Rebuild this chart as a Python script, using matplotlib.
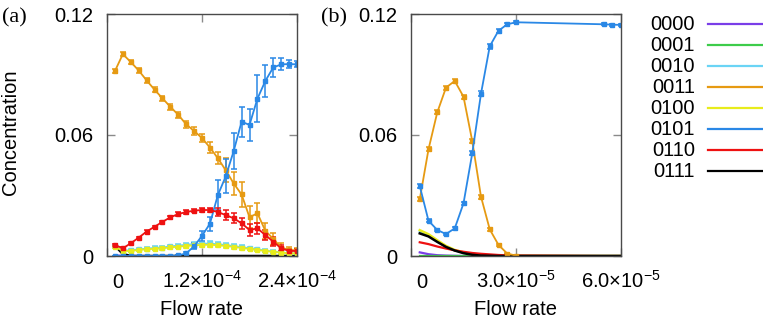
import matplotlib
matplotlib.use("Agg")
import matplotlib.pyplot as plt
import matplotlib.transforms as mtransforms
from matplotlib.lines import Line2D

plt.rcParams['font.family'] = ['Liberation Sans', 'DejaVu Sans']
plt.rcParams['mathtext.fontset'] = 'custom'
plt.rcParams['mathtext.rm'] = 'Liberation Sans'
plt.rcParams['mathtext.it'] = 'Liberation Sans:italic'

states = ['0000', '0001', '0010', '0011', '0100', '0101', '0110', '0111']
colors = ['#7a3ee8', '#3dcc4a', '#6ad4f5', '#e69a12', '#e8ec1c', '#2a88e6', '#ee1111', '#000000']

# panel (a): flow rates 1e-5 .. 2.4e-4
flow_a = [1.0e-5, 2.0e-5, 3.0e-5, 4.0e-5, 5.0e-5, 6.0e-5, 7.0e-5, 8.0e-5,
          9.0e-5, 1.0e-4, 1.1e-4, 1.2e-4, 1.3e-4, 1.4e-4, 1.5e-4, 1.6e-4,
          1.7e-4, 1.8e-4, 1.9e-4, 2.0e-4, 2.1e-4, 2.2e-4, 2.3e-4, 2.4e-4]

a_0000 = [0.0004, 0.0002, 0.0001, 0.0001, 0.0, 0.0, 0.0, 0.0, 0.0, 0.0, 0.0, 0.0,
          0.0, 0.0, 0.0, 0.0, 0.0, 0.0, 0.0, 0.0, 0.0, 0.0, 0.0, 0.0]
a_0001 = [0.0, 0.0, 0.0, 0.0, 0.0, 0.0, 0.0, 0.0, 0.0, 0.0, 0.0, 0.0,
          0.0, 0.0, 0.0, 0.0, 0.0, 0.0, 0.0, 0.0, 0.0, 0.0, 0.0, 0.0]
a_0010 = [0.0048, 0.0027, 0.0028, 0.0033, 0.0036, 0.0040, 0.0042, 0.0048, 0.0051, 0.0056, 0.0059, 0.0061,
          0.0062, 0.0058, 0.0055, 0.0049, 0.0044, 0.0038, 0.0033, 0.0027, 0.0022, 0.0018, 0.0014, 0.0013]
a_0011 = [0.0917, 0.1001, 0.0962, 0.0920, 0.0871, 0.0825, 0.0782, 0.0740, 0.0700, 0.0653, 0.0620, 0.0585,
          0.0538, 0.0485, 0.0425, 0.0360, 0.0305, 0.0192, 0.0212, 0.0125, 0.0085, 0.0042, 0.0030, 0.0028]
a_0100 = [0.0046, 0.0025, 0.0025, 0.0030, 0.0033, 0.0036, 0.0038, 0.0043, 0.0046, 0.0050, 0.0053, 0.0055,
          0.0056, 0.0053, 0.0050, 0.0045, 0.0040, 0.0035, 0.0030, 0.0025, 0.0020, 0.0017, 0.0013, 0.0013]
a_0101 = [0.0, 0.0, 0.0, 0.0, 0.0, 0.0, 0.0, 0.0, 0.0003, 0.0013, 0.0048, 0.0100,
          0.0160, 0.0302, 0.0395, 0.0520, 0.0666, 0.0650, 0.0780, 0.0868, 0.0935, 0.0950, 0.0952, 0.0950]
a_0110 = [0.0055, 0.0038, 0.0063, 0.0091, 0.0121, 0.0145, 0.0169, 0.0192, 0.0208, 0.0218, 0.0225, 0.0228,
          0.0228, 0.0218, 0.0203, 0.0187, 0.0162, 0.0129, 0.0137, 0.0104, 0.0071, 0.0038, 0.0025, 0.0025]
a_0111 = [0.0052, 0.0010, 0.0, 0.0, 0.0, 0.0, 0.0, 0.0, 0.0, 0.0, 0.0, 0.0,
          0.0, 0.0, 0.0, 0.0, 0.0, 0.0, 0.0, 0.0, 0.0, 0.0, 0.0, 0.0]

err_a_0010 = [0.0006, 0.0006, 0.0006, 0.0007, 0.0007, 0.0008, 0.0008, 0.0009, 0.0009, 0.0010, 0.0010, 0.0010,
              0.0010, 0.0010, 0.0010, 0.0009, 0.0009, 0.0008, 0.0008, 0.0007, 0.0006, 0.0005, 0.0005, 0.0005]
err_a_0011 = [0.0010, 0.0010, 0.0010, 0.0012, 0.0012, 0.0013, 0.0013, 0.0014, 0.0015, 0.0018, 0.0020, 0.0022,
              0.0025, 0.0030, 0.0060, 0.0058, 0.0062, 0.0055, 0.0050, 0.0040, 0.0030, 0.0020, 0.0015, 0.0010]
err_a_0100 = [0.0005, 0.0005, 0.0005, 0.0006, 0.0006, 0.0007, 0.0007, 0.0008, 0.0008, 0.0009, 0.0009, 0.0009,
              0.0009, 0.0009, 0.0009, 0.0008, 0.0008, 0.0007, 0.0007, 0.0006, 0.0005, 0.0005, 0.0004, 0.0004]
err_a_0101 = [0.0, 0.0, 0.0, 0.0, 0.0, 0.0, 0.0, 0.0, 0.0003, 0.0008, 0.0015, 0.0025,
              0.0035, 0.0075, 0.0085, 0.0090, 0.0075, 0.0078, 0.0118, 0.0078, 0.0045, 0.0030, 0.0020, 0.0015]
err_a_0110 = [0.0006, 0.0005, 0.0005, 0.0005, 0.0006, 0.0006, 0.0007, 0.0007, 0.0008, 0.0008, 0.0009, 0.0010,
              0.0012, 0.0018, 0.0025, 0.0025, 0.0028, 0.0028, 0.0028, 0.0025, 0.0022, 0.0015, 0.0010, 0.0008]

# panel (b): flow rates 2.5e-6 .. 6e-5
flow_b = [2.5e-6, 5.0e-6, 7.5e-6, 1.0e-5, 1.25e-5, 1.5e-5, 1.75e-5, 2.0e-5,
          2.25e-5, 2.5e-5, 2.75e-5, 3.0e-5, 5.5e-5, 5.75e-5, 6.0e-5]

b_0000 = [0.0018, 0.0009, 0.0004, 0.0002, 0.0001, 0.0, 0.0, 0.0, 0.0, 0.0, 0.0, 0.0, 0.0, 0.0, 0.0]
b_0001 = [0.0, 0.0, 0.0, 0.0, 0.0, 0.0, 0.0, 0.0, 0.0, 0.0, 0.0, 0.0, 0.0, 0.0, 0.0]
b_0010 = [0.0120, 0.0100, 0.0072, 0.0046, 0.0028, 0.0016, 0.0008, 0.0003, 0.0001, 0.0, 0.0, 0.0, 0.0, 0.0, 0.0]
b_0011 = [0.0281, 0.0529, 0.0712, 0.0835, 0.0868, 0.0790, 0.0570, 0.0294, 0.0132, 0.0055, 0.0012, 0.0002,
          0.0, 0.0, 0.0]
b_0100 = [0.0128, 0.0108, 0.0078, 0.0050, 0.0030, 0.0018, 0.0009, 0.0004, 0.0002, 0.0001, 0.0, 0.0, 0.0, 0.0, 0.0]
b_0101 = [0.0347, 0.0175, 0.0129, 0.0109, 0.0137, 0.0261, 0.0509, 0.0805, 0.1040, 0.1117, 0.1149, 0.1159,
          0.1149, 0.1147, 0.1146]
b_0110 = [0.0068, 0.0059, 0.0047, 0.0037, 0.0028, 0.0021, 0.0015, 0.0011, 0.0008, 0.0005, 0.0003, 0.0002,
          0.0, 0.0, 0.0]
b_0111 = [0.0112, 0.0097, 0.0070, 0.0045, 0.0027, 0.0014, 0.0006, 0.0002, 0.0001, 0.0, 0.0, 0.0, 0.0, 0.0, 0.0]

err_b_0011 = [0.0010, 0.0010, 0.0010, 0.0010, 0.0010, 0.0010, 0.0010, 0.0010, 0.0008, 0.0006, 0.0004, 0.0002,
              0.0, 0.0, 0.0]
err_b_0101 = [0.0012, 0.0008, 0.0006, 0.0006, 0.0006, 0.0008, 0.0010, 0.0012, 0.0012, 0.0010, 0.0008, 0.0006,
              0.0005, 0.0005, 0.0005]

W, H = 763, 326
fig = plt.figure(figsize=(W / 100, H / 100), dpi=100)

def px_axes(x0, x1, y0, y1):
    return fig.add_axes([x0 / W, 1 - y1 / H, (x1 - x0) / W, (y1 - y0) / H])

ax_a = px_axes(107, 297, 14, 256)
ax_b = px_axes(411, 621, 14, 256)

FS = 14.5
spine_col = '#4a4a4a'

def style_axes(ax, xmax, xticks, xlabels):
    ax.set_xlim(0, xmax)
    ax.set_ylim(0, 0.12)
    ax.set_yticks([0, 0.06, 0.12])
    ax.set_yticklabels(['0', '0.06', '0.12'])
    ax.set_xticks(xticks)
    ax.set_xticklabels(xlabels)
    for s in ax.spines.values():
        s.set_color(spine_col)
        s.set_linewidth(1.0)
    ax.tick_params(direction='in', length=6, width=1, color='#8a8a8a',
                   top=True, right=True, labelsize=FS)
    ax.tick_params(axis='y', pad=10)
    ax.tick_params(axis='x', pad=23)
    for lbl in ax.get_xticklabels():
        lbl.set_va('baseline')
    first = ax.get_xticklabels()[0]
    first.set_transform(first.get_transform() +
                        mtransforms.ScaledTranslation(11 / 100, 0, fig.dpi_scale_trans))
    ax.set_xlabel('Flow rate', fontsize=FS)
    ax.xaxis.set_label_coords(0.5, -0.18)

def draw_err(ax, x, y, e, c):
    ax.errorbar(x, y, yerr=e, color=c, lw=1.3, marker='s', ms=2.6,
                capsize=2.2, elinewidth=1.1, capthick=1.1, clip_on=True)

# panel (a)
ax_a.plot(flow_a, a_0000, color=colors[0], lw=1.3)
ax_a.plot(flow_a, a_0001, color=colors[1], lw=1.3)
draw_err(ax_a, flow_a, a_0010, err_a_0010, colors[2])
draw_err(ax_a, flow_a, a_0011, err_a_0011, colors[3])
draw_err(ax_a, flow_a, a_0100, err_a_0100, colors[4])
draw_err(ax_a, flow_a, a_0101, err_a_0101, colors[5])
draw_err(ax_a, flow_a, a_0110, err_a_0110, colors[6])
ax_a.plot(flow_a, a_0111, color=colors[7], lw=1.8)

style_axes(ax_a, 2.4e-4, [0, 1.2e-4, 2.4e-4],
           ['0', r'1.2×10$^{-4}$', r'2.4×10$^{-4}$'])
ax_a.set_ylabel('Concentration', fontsize=FS)
ax_a.yaxis.set_label_coords(-0.458, 0.51)

# panel (b)
ax_b.plot(flow_b, b_0000, color=colors[0], lw=1.6)
ax_b.plot(flow_b, b_0001, color=colors[1], lw=1.6)
ax_b.plot(flow_b, b_0010, color=colors[2], lw=1.6)
draw_err(ax_b, flow_b[:12], b_0011[:12], err_b_0011[:12], colors[3])
ax_b.plot(flow_b[11:], b_0011[11:], color=colors[3], lw=1.3)
ax_b.plot(flow_b, b_0100, color=colors[4], lw=1.8)
draw_err(ax_b, flow_b, b_0101, err_b_0101, colors[5])
ax_b.plot(flow_b, b_0110, color=colors[6], lw=1.6)
ax_b.plot(flow_b, b_0111, color=colors[7], lw=1.8)

style_axes(ax_b, 6.0e-5, [0, 3.0e-5, 6.0e-5],
           ['0', r'3.0×10$^{-5}$', r'6.0×10$^{-5}$'])

# panel labels
fig.text(2 / W, 1 - 17.5 / H, '(a)', fontsize=16, va='center', ha='left',
         family=['Liberation Serif', 'DejaVu Serif'])
fig.text(321 / W, 1 - 17.5 / H, '(b)', fontsize=16, va='center', ha='left',
         family=['Liberation Serif', 'DejaVu Serif'])

# legend
for i, (name, c) in enumerate(zip(states, colors)):
    y = 1 - (24 + 21.05 * i) / H
    fig.text(695 / W, y, name, fontsize=FS, ha='right', va='center')
    fig.add_artist(Line2D([708 / W, 763 / W], [y, y], color=c, lw=1.6,
                          transform=fig.transFigure))

fig.savefig('out.png', dpi=100)
